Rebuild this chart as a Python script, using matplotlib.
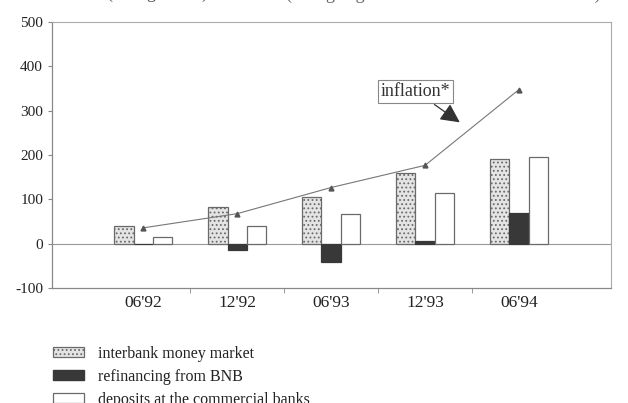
import numpy as np
import matplotlib
matplotlib.use("Agg")
from matplotlib import pyplot as plt
from matplotlib.patches import Patch

# data (change in %)
periods = ["06'92", "12'92", "06'93", "12'93", "06'94"]
interbank = [40, 83, 105, 160, 192]
refinancing = [0, -15, -40, 6, 70]
deposits = [15, 40, 67, 115, 195]
inflation = [36, 68, 127, 177, 348]

plt.rcParams['font.family'] = ['Liberation Serif', 'DejaVu Serif']
plt.rcParams['axes.unicode_minus'] = False
plt.rcParams['hatch.color'] = '#8a8a8a'
plt.rcParams['hatch.linewidth'] = 0.8

fig = plt.figure(figsize=(6.28, 4.03), dpi=100)
ax = fig.add_axes([0.083, 0.285, 0.89, 0.66])

x = np.arange(len(periods))
w = 0.205
edge = '#6a6a6a'

ax.bar(x - w, interbank, w, color='#e4e4e4', edgecolor=edge, linewidth=0.9, hatch='....', zorder=3)
ax.bar(x, refinancing, w, color='#383838', edgecolor='#383838', linewidth=0.9, zorder=3)
ax.bar(x + w, deposits, w, color='white', edgecolor=edge, linewidth=0.9, zorder=3)

ax.plot(x, inflation, color='#777777', linewidth=0.8, marker='^', markersize=3.5,
        markerfacecolor='#555555', markeredgecolor='#555555', zorder=4)

ax.annotate("inflation*", xy=(3.37, 274), xytext=(2.9, 344),
            ha='center', va='center', fontsize=13, color='#333333',
            bbox=dict(boxstyle='square,pad=0.15', fc='white', ec='#888888', lw=0.8),
            arrowprops=dict(arrowstyle='-|>,head_length=0.9,head_width=0.45',
                            color='#333333', lw=0.9, shrinkA=2, shrinkB=0),
            zorder=5)

ax.axhline(0, color='#999999', linewidth=0.8, zorder=2)

ax.set_xlim(-0.97, 4.98)
ax.set_ylim(-100, 500)
ax.set_yticks([-100, 0, 100, 200, 300, 400, 500])
ax.set_xticks(x)
ax.set_xticklabels(periods, fontsize=12.5)
ax.set_xticks([0.5, 1.5, 2.5, 3.5], minor=True)
ax.tick_params(axis='x', which='major', length=0, pad=5, colors='#222222')
ax.tick_params(axis='x', which='minor', length=3.5, color='#888888')
ax.tick_params(axis='y', length=3, labelsize=11, colors='#888888', labelcolor='#222222')

for s in ['top', 'right']:
    ax.spines[s].set_color('#aaaaaa')
    ax.spines[s].set_linewidth(0.8)
for s in ['left', 'bottom']:
    ax.spines[s].set_color('#888888')
    ax.spines[s].set_linewidth(0.9)

# title line, mostly cut off by the scan
fig.text(0.17, 1.016, "(change in %)", fontsize=13, color='#555555', va='center')
fig.text(0.455, 1.016, "(change against the end of December 1991)", fontsize=13,
         color='#666666', va='center')

handles = [Patch(facecolor='#e4e4e4', edgecolor=edge, hatch='....', linewidth=0.9),
           Patch(facecolor='#383838', edgecolor='#383838'),
           Patch(facecolor='white', edgecolor=edge, linewidth=0.9)]
labels = ["interbank money market", "refinancing from BNB", "deposits at the commercial banks"]
fig.legend(handles, labels, loc='upper left', bbox_to_anchor=(0.062, 0.178),
           frameon=False, fontsize=11.5, handlelength=1.9, handleheight=0.6,
           labelspacing=0.45, handletextpad=0.9, labelcolor='#222222')

fig.savefig("out.png", dpi=100)
